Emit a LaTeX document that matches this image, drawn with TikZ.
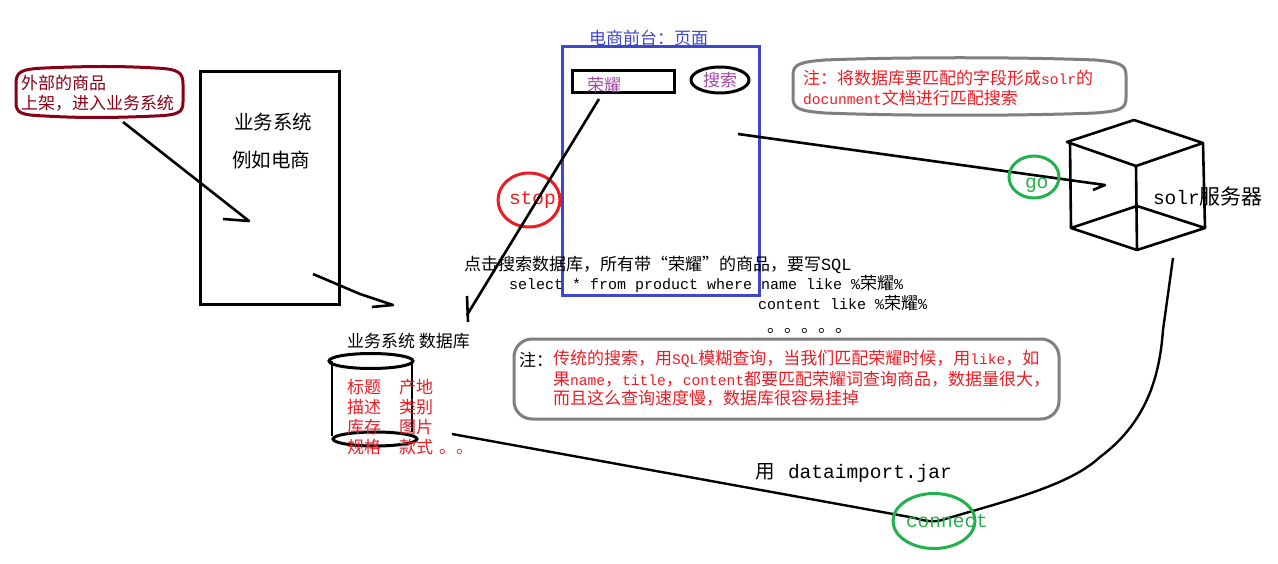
\documentclass[tikz,border=0pt]{standalone}
\usepackage{fontspec}
\setmainfont{Noto Sans CJK SC}
\newfontfamily\la{Liberation Mono}
\usetikzlibrary{shapes.geometric}
\definecolor{dred}{HTML}{880015}
\definecolor{nred}{HTML}{ED1C24}
\definecolor{nblue}{HTML}{3F48CC}
\definecolor{ngreen}{HTML}{22B14C}
\definecolor{ngrey}{HTML}{7F7F7F}
\definecolor{npurple}{HTML}{A349A4}
\newcommand{\sz}[1]{\fontsize{#1}{#1}\selectfont}
\newcommand{\fc}{\char"FF0C\relax}
\newcommand{\fk}{\char"FF1A\relax}
\tikzset{
  x=1pt,y=-1pt,
  ln/.style={draw=black,line width=2.6pt,line join=round},
  thin ln/.style={draw=black,line width=2.4pt,line join=round},
  txt/.style={inner sep=0pt,outer sep=0pt,anchor=base west,font=\sz{17}},
  redtxt/.style={txt,text=nred},
  rect/.style={draw=black,line width=3pt,inner sep=0pt,outer sep=0pt,anchor=north west},
  oval/.style={shape=ellipse,inner sep=0pt,line width=3pt},
  word/.style={inner sep=0pt,outer sep=0pt,anchor=base west,font=\la\sz{19.5}},
}
\begin{document}
\begin{tikzpicture}
\useasboundingbox (0,0) rectangle (1278,564);
\fill[white] (0,0) rectangle (1278,564);

% coordinates used by connectors
\coordinate (a1s) at (123,122); \coordinate (a1e) at (249,221); \coordinate (a1b) at (223,219);
\coordinate (a2s) at (313,274); \coordinate (a2m) at (360,294); \coordinate (a2e) at (393,305); \coordinate (a2b) at (372,307);
\coordinate (a3s) at (599,99); \coordinate (a3e) at (467,315); \coordinate (a3t) at (467,296); \coordinate (a3u) at (468,322);
\coordinate (a4s) at (738,134); \coordinate (a4e) at (1105,185); \coordinate (a4b) at (1093,190);
\coordinate (dbout) at (452,434); \coordinate (solrin) at (1173,258);

% business system
\node[rect,minimum width=139pt,minimum height=233pt] (biz) at (200,72) {};
\node[txt,font=\sz{19.5}] (biz1) at (234,130) {业务系统};
\node[txt,font=\sz{19.5}] (biz2) at (232,168) {例如电商};

% outer goods callout
\draw[draw=dred,line width=3pt] (16,84) .. controls (16,72) and (20,69) .. (45,68)
  .. controls (90,66) and (120,66) .. (155,68) .. controls (178,69) and (183,72) .. (183,84)
  -- (183,102) .. controls (183,113) and (178,115) .. (155,116)
  .. controls (110,118) and (80,118) .. (45,116) .. controls (20,115) and (16,113) .. (16,102) -- cycle;
\node[txt,text=dred] (goods1) at (21,90) {外部的商品};
\node[txt,text=dred] (goods2) at (21,110) {上架\fc 进入业务系统};

% front page
\node[rect,draw=nblue,minimum width=197pt,minimum height=249pt] (page) at (562,47) {};
\node[txt,text=nblue] (pagelabel) at (589,45) {电商前台\fk 页面};
\node[rect,minimum width=102pt,minimum height=22pt] (input) at (572,71) {};
\node[txt,text=npurple] (inputtxt) at (587,92) {荣耀};
\node[oval,draw=black,minimum width=58pt,minimum height=26pt,text=npurple,font=\sz{17}] (search) at (720,80) {搜索};

% stop
\node[oval,draw=nred,minimum width=62pt,minimum height=54pt] (stopc) at (529,200) {};
\node[word,text=nred] (stop) at (509,205) {stop};

% sql text
\node[txt] (sql0) at (464,271) {点击搜索数据库\fc 所有带“荣耀”的商品\fc 要写{\la SQL}};
\node[txt,font=\la\sz{15}] (sql1) at (509,290) {select * from product where name like \%{\rmfamily\sz{17}荣耀}\%};
\node[txt,font=\la\sz{15}] (sql2) at (758,309) {content like \%{\rmfamily\sz{17}荣耀}\%};
\node[txt] (sql3) at (767,333) {。。。。。};

% connectors over front
\draw[ln] (a1s) -- (a1e) -- (a1b);
\draw[ln] (a2s) -- (a2m) -- (a2e) -- (a2b);
\draw[ln] (a3s) -- (a3e);
\draw[ln] (a3t) -- (a3u);
\draw[ln] (a4s) -- (a4e) -- (a4b);

% note 1
\draw[draw=ngrey,line width=3pt] (793,75) .. controls (793,64) and (800,62) .. (825,60)
  .. controls (900,57) and (1020,57) .. (1095,60) .. controls (1120,62) and (1126,65) .. (1126,75)
  -- (1126,98) .. controls (1126,109) and (1120,111) .. (1095,113)
  .. controls (1020,116) and (900,116) .. (825,113) .. controls (800,111) and (793,109) .. (793,98) -- cycle;
\node[redtxt,font=\sz{17}] (n1a) at (803,85) {注\fk 将数据库要匹配的字段形成{\la\sz{14.6}solr}的};
\node[redtxt,font=\sz{17}] (n1b) at (803,105) {{\la\sz{14.6}docunment}文档进行匹配搜索};

% go
\node[oval,draw=ngreen,minimum width=50pt,minimum height=42pt] (goc) at (1034,177) {};
\node[word,text=ngreen] (go) at (1025,189) {go};

% cube
\coordinate (c1) at (1067,142); \coordinate (c2) at (1134,120); \coordinate (c3) at (1203,143); \coordinate (c4) at (1136,166);
\coordinate (c5) at (1071,228); \coordinate (c6) at (1137,206); \coordinate (c7) at (1205,228); \coordinate (c8) at (1137,250);
\draw[ln] (c1) -- (c2) -- (c3) -- (c4) -- cycle;
\draw[ln] (c5) -- (c6) -- (c7) -- (c8) -- cycle;
\draw[ln] (1070,143) -- (c5);
\draw[ln] (c4) -- (c8);
\draw[ln] (c3) -- (c7);
\node[word] (solr) at (1153,205) {solr{\rmfamily\sz{21}服务器}};

% database
\node[txt] (dblabel) at (347,348) {业务系统 数据库};
\draw[ln] (332,361) -- (332,436);
\draw[ln] (412,361) -- (412,432);
\node[oval,draw=black,minimum width=84pt,minimum height=15pt] (dbtop) at (371,361) {};
\node[oval,draw=black,minimum width=84pt,minimum height=14pt] (dbbot) at (375,439) {};
\node[redtxt] (f1) at (347,393) {标题};
\node[redtxt] (f2) at (399,393) {产地};
\node[redtxt] (f3) at (347,413) {描述};
\node[redtxt] (f4) at (399,413) {类别};
\node[redtxt] (f5) at (347,433) {库存};
\node[redtxt] (f6) at (399,433) {图片};
\node[redtxt] (f7) at (347,453) {规格};
\node[redtxt] (f8) at (399,453) {款式};
\node[redtxt] (f9) at (439,453) {。。};

% note 2
\node[rect,draw=ngrey,rounded corners=18pt,minimum width=545pt,minimum height=80pt] (note2) at (514,339) {};
\node[txt] (n2z) at (519,366) {注\fk};
\node[redtxt] (n2a) at (553,364) {传统的搜索\fc 用{\la\sz{14.6}SQL}模糊查询\fc 当我们匹配荣耀时候\fc 用{\la\sz{14.6}like}\fc 如};
\node[redtxt] (n2b) at (553,385) {果{\la\sz{14.6}name}\fc{\la\sz{14.6}title}\fc{\la\sz{14.6}content}都要匹配荣耀词查询商品\fc 数据量很大\fc};
\node[redtxt] (n2c) at (553,404) {而且这么查询速度慢\fc 数据库很容易挂掉};

% dataimport
\node[txt,font=\sz{19.5}] (imp0) at (755,478) {用};
\node[word] (imp1) at (788,478) {dataimport.jar};

% connector db -> solr
\draw[thin ln] (dbout) -- (915,518) .. controls (925,521) and (935,523) .. (945,519)
  .. controls (1010,500) and (1070,485) .. (1100,457)
  .. controls (1150,420) and (1160,370) .. (1163,330) -- (solrin);

% connect
\node[oval,draw=ngreen,minimum width=82pt,minimum height=55pt] (conc) at (934,521) {};
\node[word,text=ngreen] (connect) at (906,527) {connect};
\end{tikzpicture}
\end{document}
